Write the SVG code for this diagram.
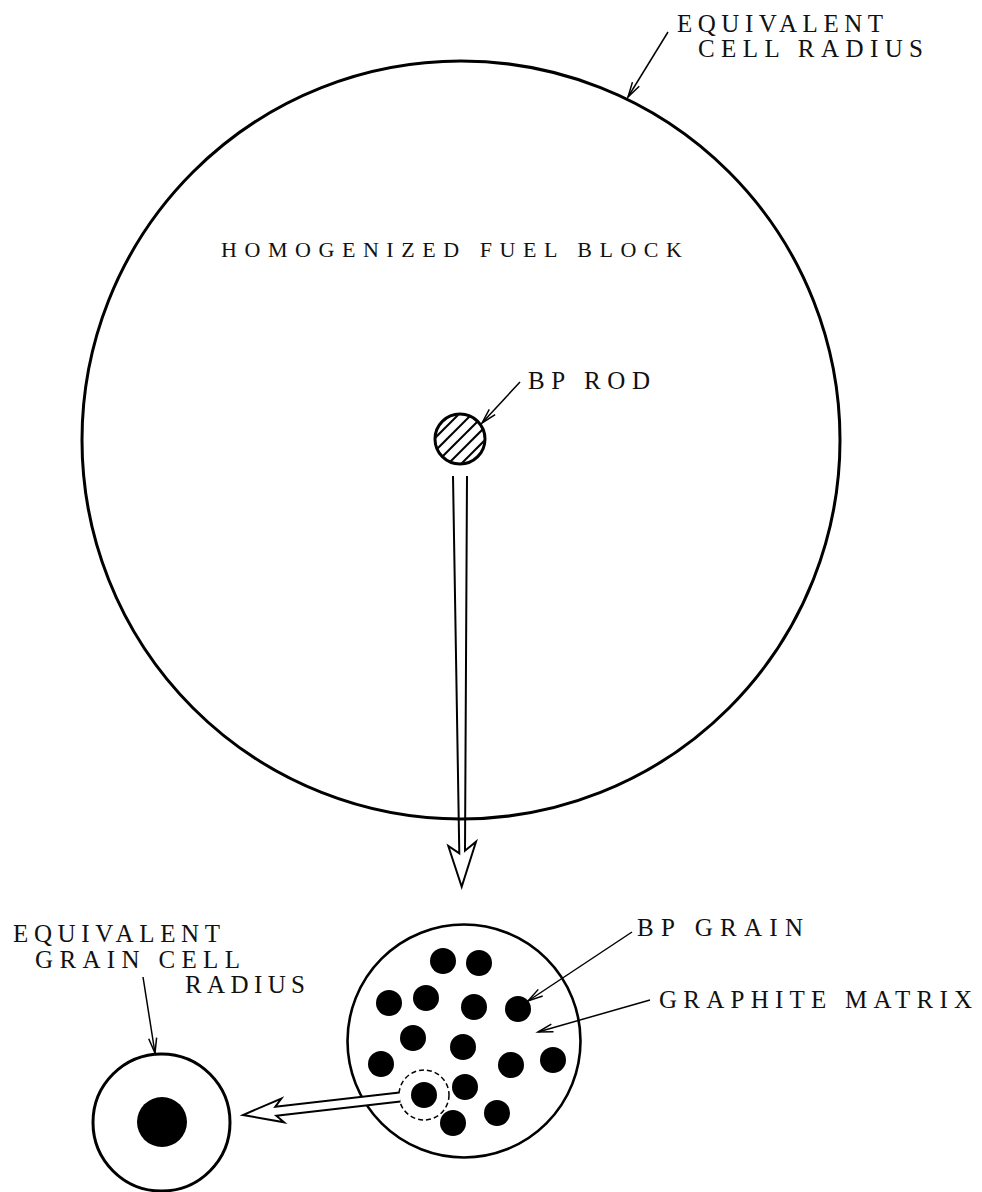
<svg xmlns="http://www.w3.org/2000/svg" width="982" height="1192" viewBox="0 0 982 1192">
<style>
  .lbl { font-family: "Liberation Serif", "Times New Roman", serif; font-size: 25px; fill: #111; }
  .big { fill: none; stroke: #000; stroke-width: 3; }
  .ptr { fill: none; stroke: #000; stroke-width: 1.5; marker-end: url(#v); }
  .dot { fill: #000; }
  .hatch { stroke: #000; stroke-width: 2; }
  .fat { fill: #fff; stroke: #000; stroke-width: 2; stroke-linejoin: miter; }
</style>
<defs>
  <marker id="v" markerUnits="userSpaceOnUse" markerWidth="20" markerHeight="12" refX="0" refY="0" viewBox="-16 -6 18 12" orient="auto" overflow="visible">
    <path d="M-15,-4 L0,0 L-15,4" fill="none" stroke="#000" stroke-width="1.5"/>
  </marker>
  <clipPath id="rodclip"><circle cx="460" cy="439" r="24"/></clipPath>
</defs>
<rect width="982" height="1192" fill="#fff"/>

<g id="fuel-block">
  <circle class="big" cx="461" cy="440" r="379"/>
  <text class="lbl" x="221" y="257" style="font-size:22px" textLength="461" lengthAdjust="spacing">HOMOGENIZED FUEL BLOCK</text>
  <text class="lbl" x="677" y="32" textLength="206" lengthAdjust="spacing">EQUIVALENT</text>
  <text class="lbl" x="698" y="57" textLength="225" lengthAdjust="spacing">CELL RADIUS</text>
</g>

<g id="bp-rod">
  <g clip-path="url(#rodclip)">
    <line class="hatch" x1="400" y1="473" x2="500" y2="373"/>
    <line class="hatch" x1="400" y1="486" x2="500" y2="386"/>
    <line class="hatch" x1="400" y1="499" x2="500" y2="399"/>
    <line class="hatch" x1="400" y1="512" x2="500" y2="412"/>
    <line class="hatch" x1="400" y1="525" x2="500" y2="425"/>
  </g>
  <circle class="big" cx="460" cy="439" r="25"/>
  <text class="lbl" x="528" y="389" textLength="122" lengthAdjust="spacing">BP ROD</text>
</g>

<g id="grain-matrix">
  <circle cx="464" cy="1041" r="116.5" fill="none" stroke="#000" stroke-width="2.6"/>
  <circle class="dot" cx="443" cy="961" r="13"/>
  <circle class="dot" cx="479" cy="963" r="13"/>
  <circle class="dot" cx="389" cy="1003" r="13"/>
  <circle class="dot" cx="426" cy="998" r="13"/>
  <circle class="dot" cx="474" cy="1007" r="13"/>
  <circle class="dot" cx="518" cy="1009" r="13"/>
  <circle class="dot" cx="413" cy="1038" r="13"/>
  <circle class="dot" cx="463" cy="1047" r="13"/>
  <circle class="dot" cx="381" cy="1064" r="13"/>
  <circle class="dot" cx="511" cy="1065" r="13"/>
  <circle class="dot" cx="553" cy="1060" r="13"/>
  <circle class="dot" cx="424" cy="1095" r="13"/>
  <circle class="dot" cx="465" cy="1087" r="13"/>
  <circle class="dot" cx="497" cy="1113" r="13"/>
  <circle class="dot" cx="453" cy="1123" r="13"/>
  <circle cx="424" cy="1095" r="25" fill="none" stroke="#000" stroke-width="1.5" stroke-dasharray="5 3"/>
  <text class="lbl" x="637" y="936" textLength="166" lengthAdjust="spacing">BP GRAIN</text>
  <text class="lbl" x="659" y="1008" textLength="313" lengthAdjust="spacing">GRAPHITE MATRIX</text>
</g>

<g id="grain-cell">
  <circle class="big" cx="161.5" cy="1122.5" r="68.5"/>
  <circle class="dot" cx="162" cy="1122" r="25"/>
  <text class="lbl" x="13" y="942" textLength="207" lengthAdjust="spacing">EQUIVALENT</text>
  <text class="lbl" x="35" y="968" textLength="205" lengthAdjust="spacing">GRAIN CELL</text>
  <text class="lbl" x="185" y="993" textLength="120" lengthAdjust="spacing">RADIUS</text>
</g>

<g id="connectors">
  <line class="ptr" x1="668" y1="32" x2="628" y2="97"/>
  <line class="ptr" x1="520" y1="382" x2="482" y2="423"/>
  <line class="ptr" x1="632" y1="932" x2="528" y2="1001"/>
  <line class="ptr" x1="650" y1="1000" x2="538" y2="1032"/>
  <line class="ptr" x1="143" y1="977" x2="155" y2="1053"/>
  <path class="fat" fill="none" d="M453,476 L459.3,853.3 L448.3,846 L461.7,886.7 L476,841.7 L465,850.7 L467,476" style="fill:none"/>
  <path class="fat" d="M399.5,1092.5 L275.3,1106.7 L281.3,1098.5 L243,1115 L284.1,1122.3 L276.3,1115.7 L400.5,1101.5"/>
</g>
</svg>
